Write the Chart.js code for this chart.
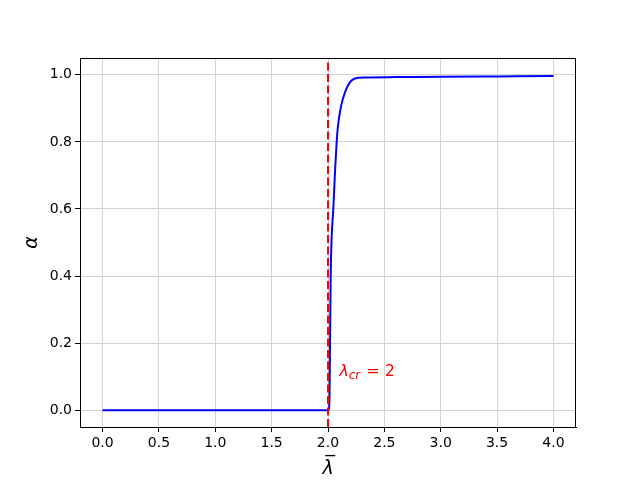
<!DOCTYPE html>
<html>
<head>
<meta charset="utf-8">
<script src="https://cdn.jsdelivr.net/npm/chart.js@4"></script>
<style>
  html, body { margin: 0; padding: 0; background: #fff; }
  #wrap { width: 640px; height: 480px; }
</style>
</head>
<body>
<div id="wrap"><canvas id="myChart" width="640" height="480"></canvas></div>
<script>
// values
var lambdaVals = [0.0, 1.0, 2.0, 2.004, 2.013, 2.018, 2.024, 2.031, 2.047, 2.062, 2.077, 2.088, 2.115, 2.153, 2.197, 2.239, 2.327, 2.6, 3.0, 3.5, 4.0];
var alphaVals  = [0.0, 0.0, 0.0, 0.0,   0.03,  0.2,   0.4,   0.504, 0.6,   0.71,  0.8,   0.846, 0.905, 0.95,  0.979, 0.989, 0.992, 0.993, 0.994, 0.995, 0.996];
var critLambda = 2;
var critLine = [-0.05, 1.05];
var xTicks = [0.0, 0.5, 1.0, 1.5, 2.0, 2.5, 3.0, 3.5, 4.0];
var yTicks = [0.0, 0.2, 0.4, 0.6, 0.8, 1.0];
var xRange = [-0.2, 4.2];
var yRange = [-0.05, 1.05];

var curve = lambdaVals.map(function (l, i) { return { x: l, y: alphaVals[i] }; });
var vline = critLine.map(function (a) { return { x: critLambda, y: a }; });

var FONT = "'DejaVu Sans', sans-serif";

// frame around plot area + annotation text
var framePlugin = {
    id: 'frame',
    afterDatasetsDraw: function (chart) {
        var ctx = chart.ctx;
        var a = chart.chartArea;
        var xs = chart.scales.x, ys = chart.scales.y;
        ctx.save();
        ctx.fillStyle = 'red';
        ctx.font = 'italic 16px ' + FONT;
        var px = xs.getPixelForValue(2.1);
        var py = ys.getPixelForValue(0.1);
        ctx.textBaseline = 'alphabetic';
        ctx.fillText('λ', px, py - 1);
        var w = ctx.measureText('λ').width;
        ctx.font = 'italic 12px ' + FONT;
        ctx.fillText('cr', px + w, py + 2);
        var w2 = ctx.measureText('cr').width;
        ctx.font = '16px ' + FONT;
        ctx.fillText(' = 2', px + w + w2 + 1, py - 1);
        ctx.restore();

        ctx.save();
        ctx.strokeStyle = '#000';
        ctx.lineWidth = 1;
        ctx.strokeRect(Math.round(a.left) + 0.5, Math.round(a.top) + 0.5,
            Math.round(a.right - a.left) - 1, Math.round(a.bottom - a.top));
        ctx.restore();
    }
};

new Chart(document.getElementById('myChart'), {
    type: 'line',
    data: {
        datasets: [
            {
                data: curve,
                borderColor: '#0000ff',
                borderWidth: 2,
                pointRadius: 0,
                cubicInterpolationMode: 'monotone',
                order: 2
            },
            {
                data: vline,
                borderColor: '#ff0000',
                borderWidth: 2,
                borderDash: [8, 3.5],
                pointRadius: 0,
                order: 1
            }
        ]
    },
    options: {
        responsive: false,
        animation: false,
        events: [],
        layout: { padding: { top: 58, right: 64, left: 0, bottom: 0 } },
        plugins: { legend: { display: false }, tooltip: { enabled: false } },
        scales: {
            x: {
                type: 'linear',
                min: xRange[0],
                max: xRange[1],
                afterBuildTicks: function (s) { s.ticks = xTicks.map(function (v) { return { value: v }; }); },
                afterFit: function (s) { s.height = 53; },
                grid: { color: '#d3d3d3', lineWidth: 1, tickLength: 5, tickColor: '#000' },
                border: { color: '#000' },
                ticks: {
                    color: '#000', font: { family: FONT, size: 14 }, padding: 3, maxRotation: 0,
                    callback: function (v) { return v.toFixed(1); }
                },
                title: {
                    display: true, text: 'λ\u0305', color: '#000',
                    font: { family: FONT, size: 19, style: 'italic' }, padding: { top: 0, bottom: 0 }
                }
            },
            y: {
                type: 'linear',
                min: yRange[0],
                max: yRange[1],
                afterBuildTicks: function (s) { s.ticks = yTicks.map(function (v) { return { value: v }; }); },
                afterFit: function (s) { s.width = 80; },
                grid: { color: '#d3d3d3', lineWidth: 1, tickLength: 5, tickColor: '#000' },
                border: { color: '#000' },
                ticks: {
                    color: '#000', font: { family: FONT, size: 14 }, padding: 3,
                    callback: function (v) { return v.toFixed(1); }
                },
                title: {
                    display: true, text: 'α', color: '#000',
                    font: { family: FONT, size: 19, style: 'italic' }, padding: { top: 21, bottom: 0 }
                }
            }
        }
    },
    plugins: [framePlugin]
});
</script>
</body>
</html>
